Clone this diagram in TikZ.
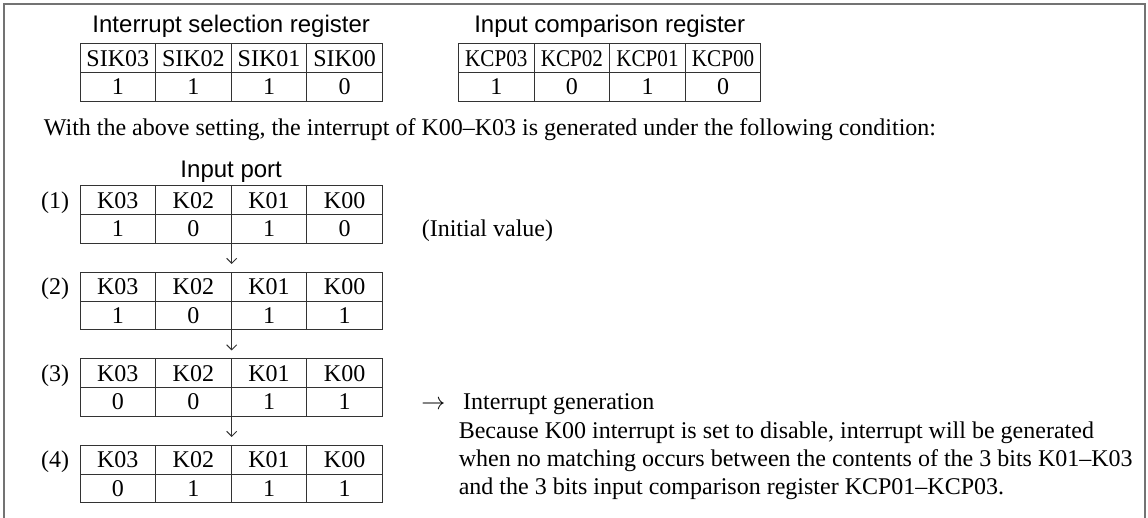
\documentclass[tikz,border=0pt]{standalone}
\usepackage{fontspec}
\usepackage{graphicx}
\setmainfont{Liberation Serif}
\newfontfamily\headfont{Liberation Sans}
\usetikzlibrary{arrows.meta}

% narrow header text for the wide KCP cells
\newcommand\narrowcell[1]{\scalebox{0.88}[1]{#1}}

% a two-row, four-column register table: name prefix, left x, top y, header/value pairs
\newcommand\regtable[4]{%
  \foreach \hd/\vl [count=\i from 0] in {#4} {
    \node[cell] (#1h\i) at ({#2+(\i+0.5)*75.6},{#3+14.35}) {\hd};
    \node[cell] (#1v\i) at ({#2+(\i+0.5)*75.6},{#3+43.05}) {\vl};
  }%
}

\tikzset{
  every node/.style={font=\fontsize{12}{14}\selectfont},
  cell/.style={draw=black!80, line width=0.5pt, inner sep=0pt,
               minimum width=37.8pt, minimum height=14.35pt},
  head/.style={font=\headfont\fontsize{12}{14}\selectfont, inner sep=0pt, anchor=base},
  plain/.style={inner sep=0pt, anchor=base west},
  frame/.style={draw=black!55, line width=0.6pt},
  flow/.style={draw=black!80, line width=0.5pt, shorten >=4pt,
               -{Straight Barb[length=2.5pt,width=5pt]}},
}

\begin{document}
\begin{tikzpicture}[x=0.5pt, y=-0.5pt]
  \useasboundingbox (0,0) rectangle (1148,518);

  % open frame
  \draw[frame] (4,518) -- (4,4) -- (1145,4) -- (1145,518);

  % register settings
  \node[head] (sikhead) at (231.2,33) {Interrupt selection register};
  \regtable{sik}{80}{44}{SIK03/1, SIK02/1, SIK01/1, SIK00/0}

  \node[head] (kcphead) at (609.7,33) {Input comparison register};
  \regtable{kcp}{458.5}{44}{{\narrowcell{KCP03}}/1, {\narrowcell{KCP02}}/0,
                            {\narrowcell{KCP01}}/1, {\narrowcell{KCP00}}/0}

  \node[plain] (setting) at (43.5,136)
    {With the above setting, the interrupt of K00--K03 is generated under the following condition:};

  % input port sequence
  \node[head] (porthead) at (231.2,178) {Input port};
  \regtable{pa}{80}{186}{K03/1, K02/0, K01/1, K00/0}
  \regtable{pb}{80}{272.5}{K03/1, K02/0, K01/1, K00/1}
  \regtable{pc}{80}{359}{K03/0, K02/0, K01/1, K00/1}
  \regtable{pd}{80}{445.5}{K03/0, K02/1, K01/1, K00/1}

  \node[anchor=base east, inner sep=0pt] (lab1) at ([xshift=-5pt]pah0.base west) {(1)};
  \node[anchor=base east, inner sep=0pt] (lab2) at ([xshift=-5pt]pbh0.base west) {(2)};
  \node[anchor=base east, inner sep=0pt] (lab3) at ([xshift=-5pt]pch0.base west) {(3)};
  \node[anchor=base east, inner sep=0pt] (lab4) at ([xshift=-5pt]pdh0.base west) {(4)};

  \draw[flow] (pav1.south east) -- (pbh1.north east);
  \draw[flow] (pbv1.south east) -- (pch1.north east);
  \draw[flow] (pcv1.south east) -- (pdh1.north east);

  % notes
  \node[plain] (init) at ([xshift=19.25pt]pav3.base east) {(Initial value)};
  \node[plain] (genarrow) at ([xshift=19pt]pcv3.base east) {$\rightarrow$};
  \node[plain] (gentext) at ([xshift=39.95pt]pcv3.base east) {Interrupt generation};
  \node[plain] (why1) at ([xshift=-2.2pt,yshift=-14.25pt]gentext.base west)
    {Because K00 interrupt is set to disable, interrupt will be generated};
  \node[plain] (why2) at ([yshift=-14.25pt]why1.base west)
    {when no matching occurs between the contents of the 3 bits K01--K03};
  \node[plain] (why3) at ([yshift=-14pt]why2.base west)
    {and the 3 bits input comparison register KCP01--KCP03.};
\end{tikzpicture}
\end{document}
